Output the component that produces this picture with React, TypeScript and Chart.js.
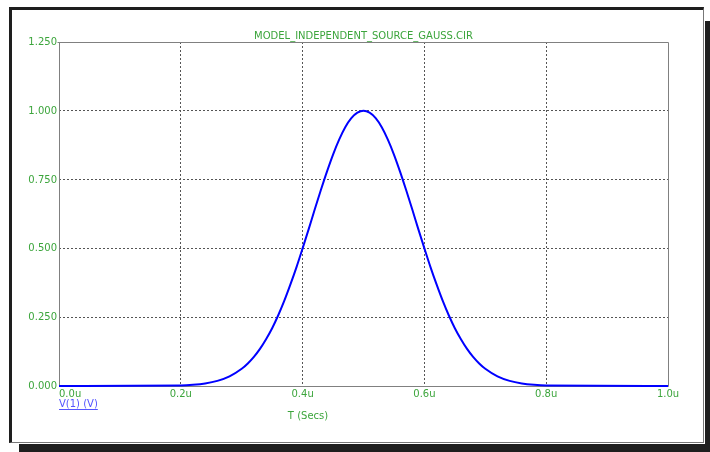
import React, { useEffect, useRef } from "react";
import { Chart, registerables } from "chart.js";

Chart.register(...registerables);

// Time in microseconds
const timeUs = [
  0.0, 0.2, 0.22, 0.24, 0.26, 0.28, 0.3, 0.31, 0.32, 0.33, 0.34, 0.35, 0.36, 0.37, 0.38, 0.39, 0.4,
  0.41, 0.42, 0.43, 0.44, 0.45, 0.46, 0.47, 0.48, 0.49, 0.5, 0.51, 0.52, 0.53, 0.54, 0.55, 0.56,
  0.57, 0.58, 0.59, 0.6, 0.61, 0.62, 0.63, 0.64, 0.65, 0.66, 0.67, 0.68, 0.69, 0.7, 0.72, 0.74,
  0.76, 0.78, 0.8, 1.0,
];
// V(1) in volts
const v1 = [
  0.0, 0.002, 0.0044, 0.0092, 0.0185, 0.035, 0.0625, 0.082, 0.106, 0.135, 0.17, 0.21, 0.257, 0.31, 0.369, 0.432, 0.5,
  0.57, 0.642, 0.712, 0.779, 0.841, 0.895, 0.94, 0.973, 0.993, 1.0, 0.993, 0.973, 0.94, 0.895, 0.841, 0.779,
  0.712, 0.642, 0.57, 0.5, 0.432, 0.369, 0.31, 0.257, 0.21, 0.17, 0.135, 0.106, 0.082, 0.0625, 0.035, 0.0185,
  0.0092, 0.0044, 0.002, 0.0,
];

const xTickValues = [0, 0.2, 0.4, 0.6, 0.8, 1.0];
const xTickLabels = ["0.0u", "0.2u", "0.4u", "0.6u", "0.8u", "1.0u"];
const yTickValues = [0, 0.25, 0.5, 0.75, 1.0, 1.25];
const yTickLabels = ["0.000", "0.250", "0.500", "0.750", "1.000", "1.250"];

const chartTitle = "MODEL_INDEPENDENT_SOURCE_GAUSS.CIR";
const seriesLabel = "V(1) (V)";
const xAxisTitle = "T (Secs)";

const GREEN = "rgb(60,165,60)";
const FONT = "10px 'DejaVu Sans'";

const textPlugin = {
  id: "spiceText",
  beforeDatasetsDraw(chart: any) {
    const { ctx, chartArea: a } = chart;
    ctx.save();
    ctx.setLineDash([]);
    ctx.strokeStyle = "#808080";
    ctx.lineWidth = 1;
    const l = Math.round(a.left) + 0.5;
    const t = Math.round(a.top) + 0.5;
    const r = Math.round(a.right) + 0.5;
    const b = Math.round(a.bottom) + 0.5;
    ctx.beginPath();
    ctx.moveTo(l - 2, t);
    ctx.lineTo(r, t);
    ctx.lineTo(r, b);
    ctx.lineTo(l, b);
    ctx.lineTo(l, t);
    ctx.stroke();
    ctx.restore();
  },
  afterDraw(chart: any) {
    const { ctx, chartArea: a, scales } = chart;
    const xs = scales.x;
    const ys = scales.y;
    ctx.save();
    ctx.font = FONT;
    ctx.fillStyle = GREEN;

    // y tick labels
    ctx.textAlign = "right";
    ctx.textBaseline = "middle";
    yTickValues.forEach((v, i) => {
      ctx.fillText(yTickLabels[i], a.left - 2, ys.getPixelForValue(v) + 0.5);
    });

    // x tick labels
    ctx.textBaseline = "alphabetic";
    xTickValues.forEach((v, i) => {
      const px = xs.getPixelForValue(v);
      if (i === 0) {
        ctx.textAlign = "left";
        ctx.fillText(xTickLabels[i], a.left, a.bottom + 11);
      } else {
        ctx.textAlign = "center";
        ctx.fillText(xTickLabels[i], px, a.bottom + 11);
      }
    });

    // title
    ctx.textAlign = "center";
    ctx.fillText(chartTitle, (a.left + a.right) / 2, a.top - 3);

    // x axis title
    ctx.fillText(xAxisTitle, 308, 419);

    // series label (underlined)
    ctx.fillStyle = "#5555ff";
    ctx.strokeStyle = "#5555ff";
    ctx.textAlign = "left";
    ctx.fillText(seriesLabel, a.left, 407);
    const w = ctx.measureText(seriesLabel).width;
    ctx.lineWidth = 1;
    ctx.beginPath();
    ctx.moveTo(a.left, 409.5);
    ctx.lineTo(a.left + w, 409.5);
    ctx.stroke();

    ctx.restore();
  },
};

const gridColor = (c: any) =>
  c.tick && (c.index === 0 || c.index === c.scale.ticks.length - 1) ? "rgba(0,0,0,0)" : "#555555";

export default function App() {
  const ref = useRef<HTMLCanvasElement>(null);

  useEffect(() => {
    if (!ref.current) return;
    const chart = new Chart(ref.current, {
      type: "line",
      data: {
        datasets: [
          {
            label: seriesLabel,
            data: timeUs.map((t, i) => ({ x: t, y: v1[i] })),
            borderColor: "#0000ff",
            borderWidth: 2,
            pointRadius: 0,
            fill: false,
            cubicInterpolationMode: "monotone",
            clip: 4,
          } as any,
        ],
      },
      options: {
        animation: false,
        responsive: false,
        devicePixelRatio: 1,
        events: [],
        layout: { padding: { left: 59, right: 42, top: 42, bottom: 66 } },
        plugins: { legend: { display: false }, tooltip: { enabled: false }, title: { display: false } },
        scales: {
          x: {
            type: "linear",
            min: 0,
            max: 1,
            afterBuildTicks: (s: any) => {
              s.ticks = xTickValues.map((v) => ({ value: v }));
            },
            afterFit: (s: any) => {
              s.height = 0;
            },
            ticks: { display: false },
            grid: { drawTicks: false, tickLength: 0, color: gridColor, lineWidth: 1 },
            border: { display: false, dash: [2, 2] },
          },
          y: {
            type: "linear",
            min: 0,
            max: 1.25,
            afterBuildTicks: (s: any) => {
              s.ticks = yTickValues.map((v) => ({ value: v }));
            },
            afterFit: (s: any) => {
              s.width = 0;
            },
            ticks: { display: false },
            grid: { drawTicks: false, tickLength: 0, color: gridColor, lineWidth: 1 },
            border: { display: false, dash: [2, 2] },
          },
        },
      } as any,
      plugins: [textPlugin],
    });
    return () => chart.destroy();
  }, []);

  return (
    <div style={{ position: "fixed", left: 0, top: 0, width: 710, height: 452, background: "#fff", overflow: "hidden" }}>
      <div style={{ position: "absolute", left: 705, top: 21, width: 5, height: 431, background: "#1e1e1e" }} />
      <div style={{ position: "absolute", left: 19, top: 444, width: 691, height: 8, background: "#1e1e1e" }} />
      <div
        style={{
          position: "absolute",
          left: 9,
          top: 7,
          width: 695,
          height: 436,
          boxSizing: "border-box",
          background: "#fff",
          borderLeft: "3px solid #1e1e1e",
          borderTop: "3px solid #1e1e1e",
          borderRight: "1px solid #777",
          borderBottom: "1px solid #777",
        }}
      />
      <canvas ref={ref} width={710} height={452} style={{ position: "absolute", left: 0, top: 0, width: 710, height: 452 }} />
    </div>
  );
}
